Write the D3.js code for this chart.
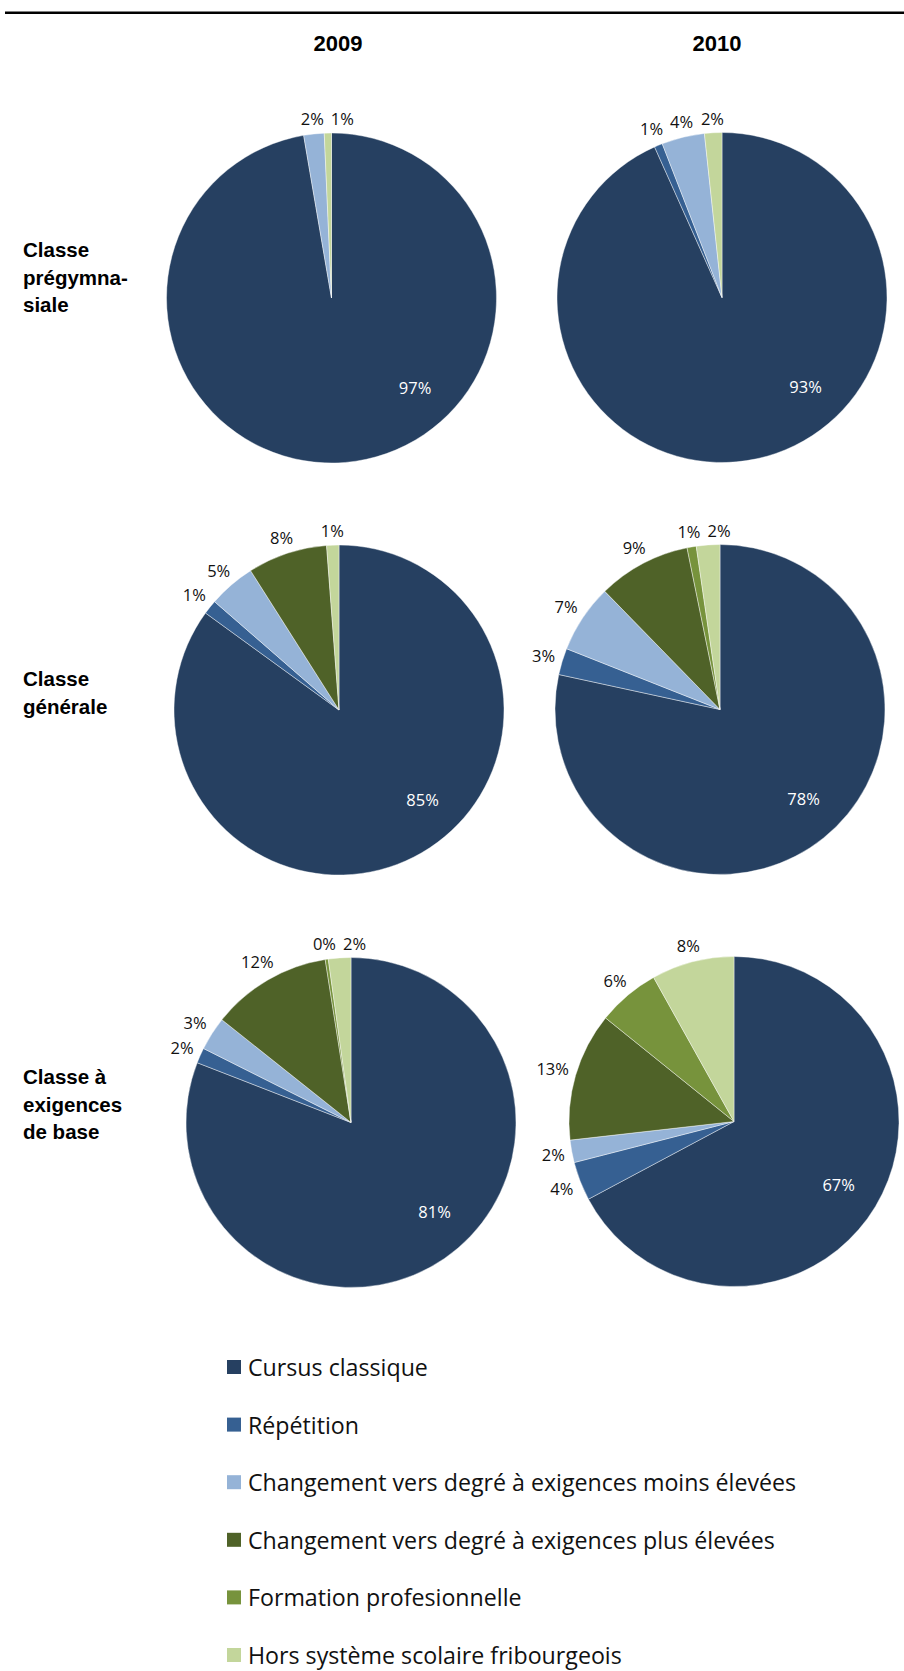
<!DOCTYPE html>
<html>
<head>
<meta charset="utf-8">
<script src="https://cdn.jsdelivr.net/npm/d3@7"></script>
<style>
  html, body { margin: 0; padding: 0; background: #fff; }
  svg { display: block; }
</style>
</head>
<body>
<svg id="chart" width="904" height="1671"></svg>
<script>
// ---------- DATA ----------
const categories = [
  "Cursus classique",
  "Répétition",
  "Changement vers degré à exigences moins élevées",
  "Changement vers degré à exigences plus élevées",
  "Formation profesionnelle",
  "Hors système scolaire fribourgeois"
];
const years = ["2009", "2010"];
const classLabels = [
  ["Classe", "prégymna-", "siale"],
  ["Classe", "générale"],
  ["Classe à", "exigences", "de base"]
];
// percentages per category (null = no value)
const pregym2009   = [97.3, null, 2.0, null, null, 0.7];
const pregym2010   = [93.3, 0.8, 4.2, null, null, 1.7];
const generale2009 = [85.0, 1.4, 4.6, 7.8, null, 1.2];
const generale2010 = [78.4, 2.6, 6.7, 9.1, 0.9, 2.3];
const base2009     = [80.9, 1.5, 3.3, 11.8, 0.3, 2.2];
const base2010     = [67.2, 3.8, 2.2, 12.6, 6.1, 8.1];

const pieValues = [
  [pregym2009, pregym2010],
  [generale2009, generale2010],
  [base2009, base2010]
];

// ---------- STYLE / LAYOUT ----------
const colors = ["#264061", "#366092", "#95b3d7", "#4f6228", "#77933c", "#c3d69b"];
const color = d3.scaleOrdinal().domain(categories).range(colors);
const R = 165;
const pieCenters = [
  [[331.5, 298], [722, 297.5]],
  [[339, 710], [720, 709.5]],
  [[351, 1122.5], [734, 1121.5]]
];
const titleX = [338, 717];
const rowLabelBaseline = [257.3, 686, 1084.3];
const labelFont = "'Open Sans', sans-serif";

const svg = d3.select("#chart");

// top rule
svg.append("line")
  .attr("x1", 5).attr("x2", 904).attr("y1", 12.7).attr("y2", 12.7)
  .attr("stroke", "#000").attr("stroke-width", 2.5);

// year titles
svg.selectAll("text.year").data(years).join("text")
  .attr("class", "year")
  .attr("x", (d, i) => titleX[i]).attr("y", 51)
  .attr("text-anchor", "middle")
  .style("font-family", "'Liberation Sans', Arial, sans-serif")
  .style("font-weight", "bold").style("font-size", "22px")
  .text(d => d);

// row labels
classLabels.forEach((lines, i) => {
  const t = svg.append("text")
    .attr("x", 23).attr("y", rowLabelBaseline[i])
    .style("font-family", "'Liberation Sans', Arial, sans-serif")
    .style("font-weight", "bold").style("font-size", "20.5px");
  lines.forEach((l, k) => {
    t.append("tspan").attr("x", 23).attr("dy", k === 0 ? 0 : 27.5).text(l);
  });
});

const pie = d3.pie().sort(null).value(d => d.v);
const arc = d3.arc().innerRadius(0).outerRadius(R);

pieValues.forEach((row, ri) => {
  row.forEach((vals, ci) => {
    const [cx, cy] = pieCenters[ri][ci];
    const g = svg.append("g").attr("transform", `translate(${cx},${cy})`);
    const data = vals.map((v, k) => ({ cat: categories[k], v: v == null ? 0 : v, has: v != null }));
    const arcs = pie(data);

    g.selectAll("path").data(arcs.filter(a => a.data.v > 0)).join("path")
      .attr("d", arc)
      .attr("fill", d => color(d.data.cat))
      .attr("stroke", "#fff").attr("stroke-width", 0.6).attr("stroke-opacity", 0.7);

    // labels
    const labels = [];
    arcs.forEach((a, k) => {
      if (!a.data.has) return;
      const txt = Math.round(a.data.v) + "%";
      const mid = (a.startAngle + a.endAngle) / 2;
      labels.push({ a, k, txt, mid, inside: k === 0 });
    });
    const tmp = g.append("text").style("font-family", labelFont).style("font-size", "16.5px");
    labels.forEach(l => { tmp.text(l.txt); l.w = tmp.node().getComputedTextLength(); });
    tmp.remove();

    const placed = [];
    labels.forEach(l => {
      if (l.inside) {
        const ang = Math.min(l.mid, Math.PI * 0.76);
        const d = R * 0.74;
        l.x = Math.sin(ang) * d; l.y = -Math.cos(ang) * d;
      } else {
        const s = Math.sin(l.mid), c = Math.cos(l.mid);
        const d = R + 6 + Math.abs(s) * l.w / 2 + Math.abs(c) * 8;
        l.x = s * d; l.y = -c * d;
        placed.forEach(p => {
          if (Math.abs(p.y - l.y) < 16) {
            const need = (p.w + l.w) / 2 + 7;
            if (Math.abs(p.x - l.x) < need) {
              l.x = l.x >= p.x ? p.x + need : p.x - need;
            }
          }
        });
        placed.push(l);
      }
    });

    g.selectAll("text.lbl").data(labels).join("text")
      .attr("class", "lbl")
      .attr("x", d => d.x).attr("y", d => d.y)
      .attr("text-anchor", "middle")
      .attr("dominant-baseline", "central")
      .style("font-family", labelFont).style("font-size", "16.5px")
      .attr("fill", d => d.inside ? "#fff" : "#111")
      .text(d => d.txt);
  });
});

// legend
const legY = d3.scalePoint().domain(categories).range([1367, 1655]);
const leg = svg.append("g");
const items = leg.selectAll("g").data(categories).join("g")
  .attr("transform", d => `translate(0,${legY(d)})`);
items.append("rect")
  .attr("x", 227).attr("y", -7).attr("width", 14).attr("height", 14)
  .attr("fill", d => color(d));
items.append("text")
  .attr("x", 248).attr("y", 0)
  .attr("dominant-baseline", "central")
  .style("font-family", labelFont).style("font-size", "23.2px")
  .attr("fill", "#111")
  .text(d => d);
</script>
</body>
</html>
